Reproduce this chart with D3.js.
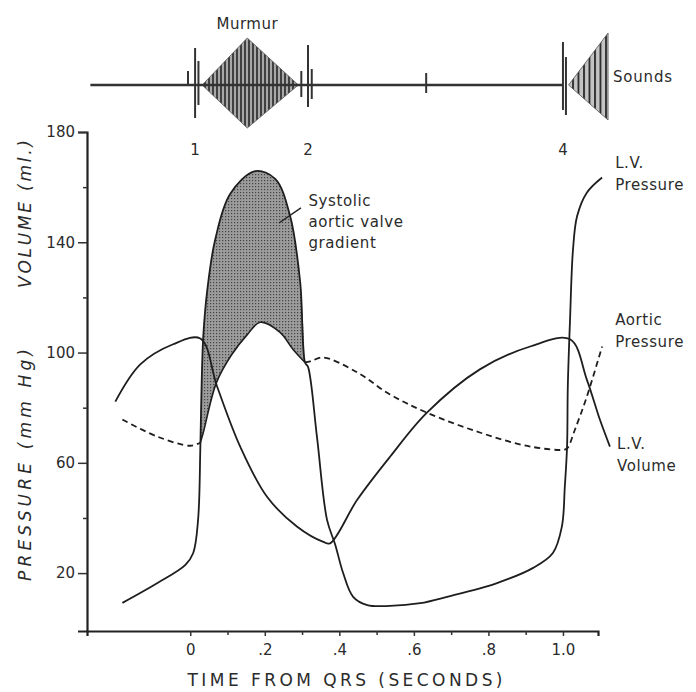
<!DOCTYPE html>
<html>
<head>
<meta charset="utf-8">
<script src="https://cdn.jsdelivr.net/npm/d3@7"></script>
<style>
  body { margin: 0; background: #fff; }
  text { font-family: "DejaVu Sans", sans-serif; fill: #2b2b2b; }
</style>
</head>
<body>
<div id="chart"></div>
<script>

// size of the page
var width = 696,
    height = 692;

// [time from QRS (s), value] -- pressure in mm Hg, volume in ml
var lvPressure = [
  [-0.182, 9.2], [-0.088, 16.4], [-0.013, 23.0], [0.008, 27.3], [0.021, 39.3],
  [0.027, 64.8], [0.030, 85], [0.035, 106], [0.046, 123], [0.067, 141],
  [0.107, 157.5], [0.174, 165.8], [0.228, 163], [0.268, 149.5], [0.295, 125.5],
  [0.308, 96.4], [0.316, 94.8], [0.34, 69.4], [0.367, 39.3], [0.389, 30.3],
  [0.41, 20.1], [0.437, 11.4], [0.475, 8.4], [0.536, 8.1], [0.617, 9.1],
  [0.689, 11.4], [0.823, 16.4], [0.92, 21.9], [0.973, 27.3], [0.997, 36.8],
  [1.005, 51.4], [1.011, 65.9], [1.013, 87.7], [1.019, 112], [1.027, 137.5],
  [1.038, 149.5], [1.064, 158], [1.105, 163.5]
];

var aorticBefore = [
  [-0.182, 75.7], [-0.088, 69.5], [0, 66.2], [0.027, 67.3]
];

var aorticEjection = [
  [0.027, 67.3], [0.035, 71], [0.07, 89], [0.11, 99], [0.153, 106.5],
  [0.188, 111], [0.241, 107.3], [0.276, 101.1], [0.308, 96.4]
];

var aorticAfter = [
  [0.308, 96.4], [0.322, 96.8], [0.357, 98.2], [0.448, 92.8], [0.536, 84.8],
  [0.635, 78.2], [0.777, 71], [0.912, 65.9], [1.005, 64.8], [1.013, 65.5],
  [1.032, 72], [1.064, 84], [1.105, 102.2]
];

var lvVolume = [
  [-0.201, 82.2], [-0.134, 95.7], [-0.046, 103], [0.027, 105.1], [0.072, 87.7],
  [0.134, 65.9], [0.206, 47.7], [0.287, 36.8], [0.357, 31.3], [0.375, 30.8],
  [0.448, 46.6], [0.536, 62.2], [0.635, 78.2], [0.777, 93.9], [0.912, 102.2],
  [1.019, 104.8], [1.064, 90.2], [1.099, 75.7], [1.126, 65.9]
];

// heart sounds trace: [time, top, bottom] in arbitrary amplitude units
var soundBaseline = [[-0.268, 0], [1.0, 0]];
var soundSpikes = [
  [-0.006, 14, -1], [0.013, 37, -33], [0.022, 24, -20], [0.298, 14, -12],
  [0.316, 40, -22], [0.326, 16, -14], [0.633, 12, -8], [1.0, 43, -25],
  [1.008, 28, -30]
];
var murmurEnvelope = [[0.032, 0], [0.153, 47], [0.29, 0], [0.153, -43]];
var s4Envelope = [[1.015, 0], [1.121, 52], [1.121, -35]];
var soundLabels = [[0.013, "1"], [0.316, "2"], [1.0, "4"]];

// axes
var xTicks = [0, 0.2, 0.4, 0.6, 0.8, 1.0];
var xTickLabels = ["0", ".2", ".4", ".6", ".8", "1.0"];
var xMinorTicks = [0.1, 0.3, 0.5, 0.7, 0.9];
var yTicks = [20, 60, 100, 140, 180];
var yMinorTicks = [40, 80, 120, 160];


var svg = d3.select("#chart")
    .append("svg")
    .attr("width", width)
    .attr("height", height);

var x = d3.scaleLinear().domain([-0.277, 1.094]).range([87, 598]);
var y = d3.scaleLinear().domain([-1, 180]).range([631, 132]);
var amp = d3.scaleLinear().domain([-50, 50]).range([135, 35]);

var line = d3.line()
    .x(function(d) { return x(d[0]); })
    .y(function(d) { return y(d[1]); })
    .curve(d3.curveCatmullRom.alpha(0.5));

// patterns for the murmur and the shaded gradient
var defs = svg.append("defs");
var p1 = defs.append("pattern").attr("id", "murmur")
    .attr("patternUnits", "userSpaceOnUse").attr("width", 4).attr("height", 10);
p1.append("rect").attr("width", 4).attr("height", 10).attr("fill", "#a8a8a8");
p1.append("line").attr("x1", 1).attr("x2", 1).attr("y1", 0).attr("y2", 10)
    .attr("stroke", "#262626").attr("stroke-width", 1.6);

var p2 = defs.append("pattern").attr("id", "s4")
    .attr("patternUnits", "userSpaceOnUse").attr("width", 5.5).attr("height", 10);
p2.append("rect").attr("width", 5.5).attr("height", 10).attr("fill", "#c4c4c4");
p2.append("line").attr("x1", 1).attr("x2", 1).attr("y1", 0).attr("y2", 10)
    .attr("stroke", "#262626").attr("stroke-width", 1.8);

var p3 = defs.append("pattern").attr("id", "stipple")
    .attr("patternUnits", "userSpaceOnUse").attr("width", 3).attr("height", 3);
p3.append("rect").attr("width", 3).attr("height", 3).attr("fill", "#9c9c9c");
p3.append("rect").attr("width", 1.2).attr("height", 1.2).attr("fill", "#444");


// ---- sounds trace ----
var sx = function(d) { return x(d[0]); };
var sy = function(d) { return amp(d[1]); };

svg.append("path")
    .attr("d", d3.line().x(sx).y(sy)(murmurEnvelope) + "Z")
    .attr("fill", "url(#murmur)")
    .attr("stroke", "#555")
    .attr("stroke-width", 0.8);

svg.append("path")
    .attr("d", d3.line().x(sx).y(sy)(s4Envelope) + "Z")
    .attr("fill", "url(#s4)")
    .attr("stroke", "#555")
    .attr("stroke-width", 0.8);

svg.append("path")
    .attr("d", d3.line().x(sx).y(sy)(soundBaseline))
    .attr("stroke", "#333")
    .attr("stroke-width", 2.6)
    .attr("fill", "none");

svg.selectAll("spikes")
  .data(soundSpikes)
  .enter()
  .append("line")
    .attr("x1", function(d) { return x(d[0]); })
    .attr("x2", function(d) { return x(d[0]); })
    .attr("y1", function(d) { return amp(d[1]); })
    .attr("y2", function(d) { return amp(d[2]); })
    .attr("stroke", "#333")
    .attr("stroke-width", 2);

svg.selectAll("soundlabels")
  .data(soundLabels)
  .enter()
  .append("text")
    .attr("x", function(d) { return x(d[0]); })
    .attr("y", 155)
    .attr("text-anchor", "middle")
    .style("font-size", "15px")
    .text(function(d) { return d[1]; });

svg.append("text")
    .attr("x", x(0.153))
    .attr("y", 29)
    .attr("text-anchor", "middle")
    .style("font-size", "15px")
    .style("letter-spacing", "0.5px")
    .text("Murmur");

svg.append("text")
    .attr("x", 613)
    .attr("y", 82)
    .style("font-size", "15px")
    .style("letter-spacing", "0.8px")
    .text("Sounds");


// ---- shaded systolic gradient ----
var upper = lvPressure.filter(function(d) { return d[0] >= 0.027 && d[0] <= 0.308; });
var lower = aorticEjection.slice().reverse();
svg.append("path")
    .attr("d", line(upper) + "L" + line(lower).slice(1) + "Z")
    .attr("fill", "url(#stipple)")
    .attr("stroke", "none");


// ---- curves ----
svg.append("path").attr("d", line(lvPressure))
    .attr("fill", "none").attr("stroke", "#1e1e1e").attr("stroke-width", 1.8);

svg.append("path").attr("d", line(lvVolume))
    .attr("fill", "none").attr("stroke", "#1e1e1e").attr("stroke-width", 1.8);

svg.append("path").attr("d", line(aorticEjection))
    .attr("fill", "none").attr("stroke", "#1e1e1e").attr("stroke-width", 1.6);

svg.append("path").attr("d", line(aorticBefore))
    .attr("fill", "none").attr("stroke", "#1e1e1e").attr("stroke-width", 1.8)
    .attr("stroke-dasharray", "6,4");

svg.append("path").attr("d", line(aorticAfter))
    .attr("fill", "none").attr("stroke", "#1e1e1e").attr("stroke-width", 1.8)
    .attr("stroke-dasharray", "6,4");


// ---- axes ----
var xAxis = svg.append("g")
    .attr("transform", "translate(0," + y(-1) + ")")
    .call(d3.axisBottom(x)
      .tickValues(xTicks)
      .tickSize(5)
      .tickPadding(8)
      .tickFormat(function(d, i) { return xTickLabels[i]; }));

svg.append("g")
    .attr("transform", "translate(0," + y(-1) + ")")
    .call(d3.axisBottom(x).tickValues(xMinorTicks).tickSize(4).tickFormat(""))
    .select(".domain").remove();

var yAxis = svg.append("g")
    .attr("transform", "translate(" + x(-0.277) + ",0)")
    .call(d3.axisLeft(y)
      .tickValues(yTicks)
      .tickSize(9)
      .tickPadding(3));

svg.append("g")
    .attr("transform", "translate(" + x(-0.277) + ",0)")
    .call(d3.axisLeft(y).tickValues(yMinorTicks).tickSize(4).tickFormat(""))
    .select(".domain").remove();

svg.selectAll(".domain")
    .attr("stroke", "#222")
    .attr("stroke-width", 2.2);
svg.selectAll(".tick line")
    .attr("stroke", "#333")
    .attr("stroke-width", 1.5);
svg.selectAll(".tick text")
    .attr("font-family", "DejaVu Sans")
    .attr("font-size", 15)
    .attr("fill", "#2b2b2b");

// axis titles
svg.append("text")
    .attr("x", 345)
    .attr("y", 686)
    .attr("textLength", 315)
    .attr("lengthAdjust", "spacing")
    .attr("text-anchor", "middle")
    .style("font-size", "17px")
    .text("TIME FROM QRS (SECONDS)");

svg.append("text")
    .attr("transform", "translate(31,214) rotate(-90)")
    .attr("text-anchor", "middle")
    .attr("textLength", 148)
    .attr("lengthAdjust", "spacing")
    .style("font-size", "17px")
    .style("font-style", "italic")
    .text("VOLUME (ml.)");

svg.append("text")
    .attr("transform", "translate(31,465) rotate(-90)")
    .attr("text-anchor", "middle")
    .attr("textLength", 232)
    .attr("lengthAdjust", "spacing")
    .style("font-size", "17px")
    .style("font-style", "italic")
    .text("PRESSURE (mm Hg)");


// ---- curve labels ----
var curveLabels = [
  { lines: ["L.V.", "Pressure"], t: 1.14, v: 167 },
  { lines: ["Aortic", "Pressure"], t: 1.14, v: 110 },
  { lines: ["L.V.", "Volume"], t: 1.145, v: 65 }
];

curveLabels.forEach(function(l) {
  l.lines.forEach(function(s, i) {
    svg.append("text")
      .attr("x", x(l.t))
      .attr("y", y(l.v) + i * 22)
      .style("font-size", "15px")
      .style("letter-spacing", "0.6px")
      .text(s);
  });
});

// annotation for the shaded area
var note = ["Systolic", "aortic valve", "gradient"];
note.forEach(function(s, i) {
  svg.append("text")
    .attr("x", x(0.317))
    .attr("y", y(153) + i * 21)
    .style("font-size", "15px")
    .style("letter-spacing", "0.6px")
    .text(s);
});

svg.append("line")
    .attr("x1", x(0.297)).attr("y1", y(152.5))
    .attr("x2", x(0.238)).attr("y2", y(147))
    .attr("stroke", "#222")
    .attr("stroke-width", 1.4);

</script>
</body>
</html>
